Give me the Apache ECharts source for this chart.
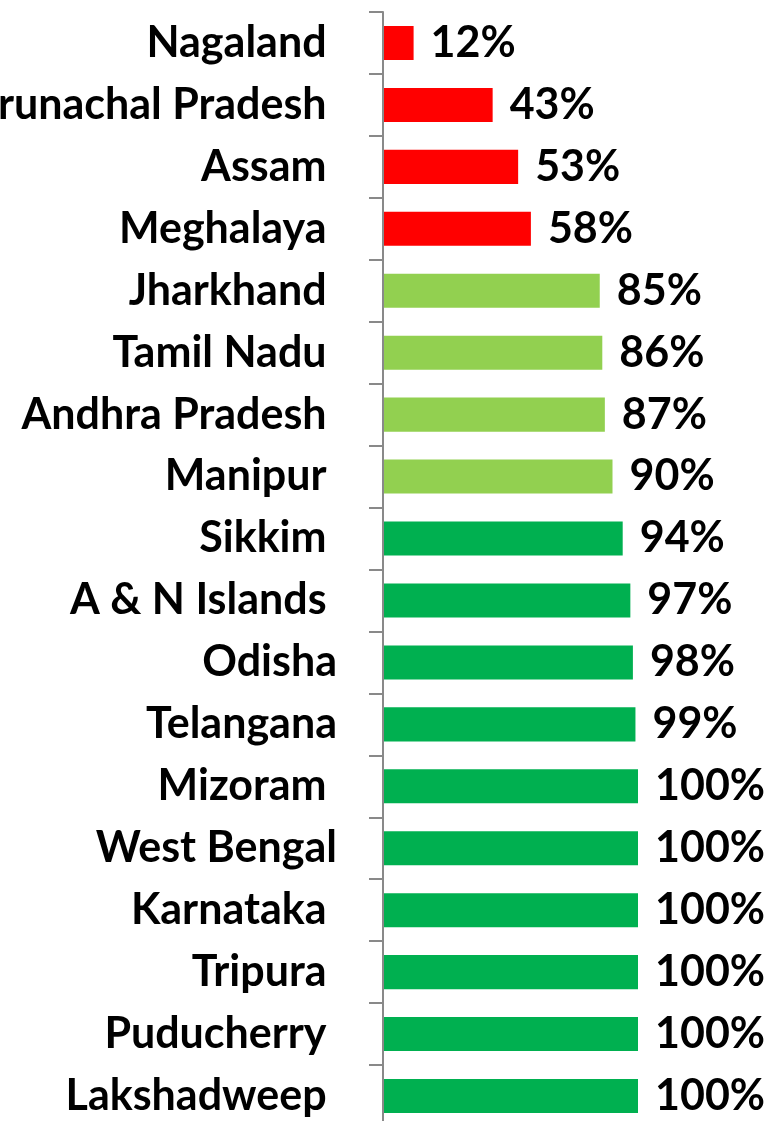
<!DOCTYPE html>
<html>
<head>
<meta charset="utf-8">
<script src="https://cdn.jsdelivr.net/npm/echarts@6/dist/echarts.min.js"></script>
<style>
  html, body { margin: 0; padding: 0; background: #fff; }
  #Coverage { width: 765px; height: 1121px; }
</style>
</head>
<body>
<div id="Coverage"></div>
<script>
  // states as in the sheet (most names carry a trailing space)
  var states = ['Nagaland ', 'Arunachal Pradesh ', 'Assam ', 'Meghalaya ', 'Jharkhand ',
    'Tamil Nadu ', 'Andhra Pradesh ', 'Manipur ', 'Sikkim ', 'A & N Islands ', 'Odisha',
    'Telangana', 'Mizoram ', 'West Bengal', 'Karnataka ', 'Tripura ', 'Puducherry ', 'Lakshadweep ']
  var coverage = [12, 43, 53, 58, 85, 86, 87, 90, 94, 97, 98, 99, 100, 100, 100, 100, 100, 100]

  var colors = ['#ff0000', '#92d050', '#00b050']
  var labelFont = { fontFamily: 'Lato', fontWeight: 'bold', fontSize: 43, color: '#000' }

  var chart = echarts.init(document.getElementById('Coverage'))
  chart.setOption({
    animation: false,
    grid: {
      left: 383,
      right: 127,
      top: 12,
      height: 1115,
      outerBoundsMode: 'none'
    },
    xAxis: {
      type: 'value',
      min: 0,
      max: 100,
      show: false
    },
    yAxis: {
      type: 'category',
      inverse: true,
      data: states,
      z: 3,
      axisLine: { show: true, lineStyle: { color: '#898989', width: 2 } },
      axisTick: { show: true, alignWithLabel: false, length: 14, lineStyle: { color: '#898989', width: 2 } },
      axisLabel: Object.assign({ margin: 46 }, labelFont)
    },
    series: [{
      type: 'bar',
      data: coverage,
      barCategoryGap: '45%',
      itemStyle: {
        color: function (p) {
          if (p.value < 60) return colors[0]
          if (p.value <= 90) return colors[1]
          return colors[2]
        }
      },
      label: Object.assign({
        show: true,
        position: 'right',
        distance: 17,
        formatter: '{c}%'
      }, labelFont)
    }]
  })
</script>
</body>
</html>
